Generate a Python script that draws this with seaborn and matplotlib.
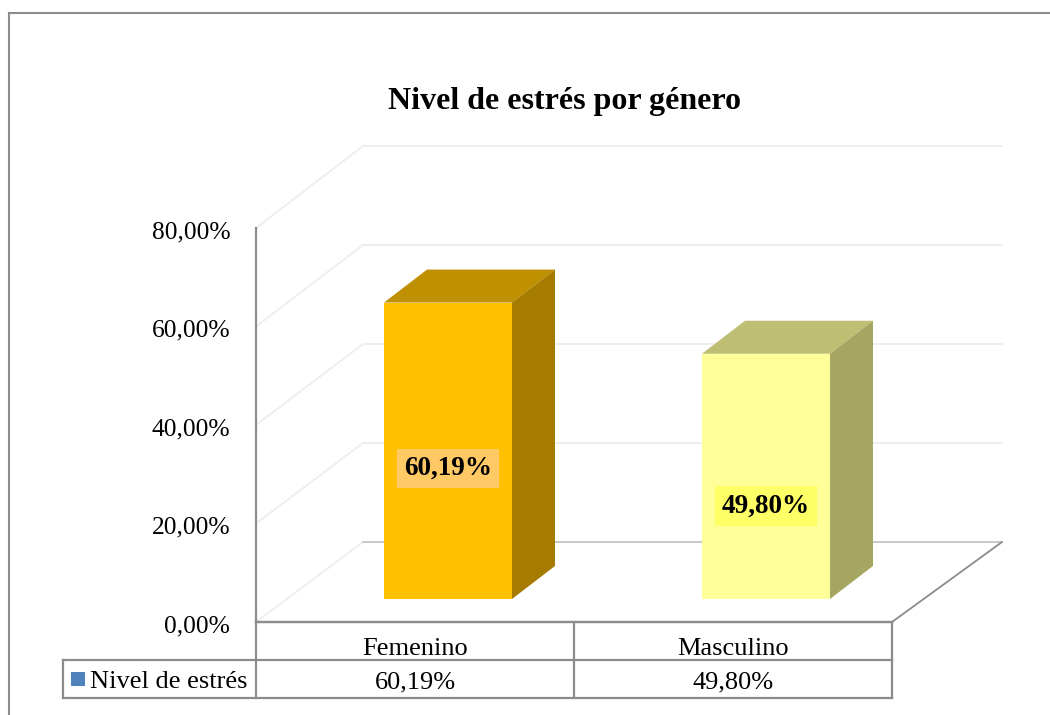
import matplotlib
matplotlib.use("Agg")
import matplotlib.pyplot as plt
from matplotlib.patches import Polygon, Rectangle
from matplotlib.ticker import FuncFormatter
from matplotlib.transforms import ScaledTranslation
import pandas as pd
import seaborn as sns

# ---- data ----
categories = ["Femenino", "Masculino"]
values = [60.19, 49.80]
value_labels = ["60,19%", "49,80%"]
series_name = "Nivel de estrés"
title = "Nivel de estrés por género"
y_ticks = [0, 20, 40, 60, 80]

# ---- styles ----
front_colors = ["#FFC000", "#FFFF99"]
top_colors = ["#BF9000", "#BFBF73"]
side_colors = ["#A67C00", "#A6A663"]
label_box_colors = ["#FFC966", "#FFFF66"]
label_fracs = [0.440, 0.378]
GRAY = "#8C8C8C"
GRID = "#EEEEEE"
W, H = 1050, 715

sns.set_theme(style="white")
plt.rcParams["font.family"] = ["Liberation Serif", "DejaVu Serif"]
fig = plt.figure(figsize=(W / 100, H / 100), dpi=100, facecolor="white")


def rect(x0, y_top, x1, y_bot):
    return [x0 / W, 1 - y_bot / H, (x1 - x0) / W, (y_bot - y_top) / H]


# main axes: left wall axis + gridlines
ax = fig.add_axes(rect(256, 228, 892, 622))
ax.set_xlim(-0.5, 1.5)
ax.set_ylim(0, 80)
ax.patch.set_alpha(0)
ax.set_xticks([])
ax.set_yticks(y_ticks)
ax.yaxis.set_major_formatter(FuncFormatter(lambda v, _: f"{v:.2f}%".replace(".", ",")))
ax.tick_params(axis="y", length=0, pad=18.5, labelsize=18.4, labelcolor="black")
shift = ScaledTranslation(0, -1.5 / 100, fig.dpi_scale_trans)
for lab in ax.get_yticklabels():
    lab.set_transform(lab.get_transform() + shift)
for s in ("top", "right", "bottom"):
    ax.spines[s].set_visible(False)
ax.spines["left"].set_color(GRAY)
ax.spines["left"].set_linewidth(1.6)
ax.spines["bottom"].set_visible(True)
ax.spines["bottom"].set_color(GRAY)
ax.spines["bottom"].set_linewidth(1.6)

# depth of wall and of bars, in data units of this 318 px/unit, 4.925 px/% scale
px_x, px_y = 318.0, 394.0 / 80
wall_dx, wall_dy = 107 / px_x, 80 / px_y
wall_scale = 99 / 98.5
end_x = 1.5 + 110 / px_x
for t in y_ticks:
    c = "#C8C8C8" if t == 0 else GRID
    back = t * wall_scale + wall_dy
    ax.plot([-0.5, -0.5 + wall_dx], [t, back], color=GRID, lw=1.4, clip_on=False, zorder=1)
    ax.plot([-0.5 + wall_dx, end_x], [back, back], color=c, lw=1.4, clip_on=False, zorder=1)
ax.plot([1.5, end_x], [0, wall_dy], color=GRAY, lw=1.3, clip_on=False, zorder=2)

# bars: same scale, shifted into the 3-D floor
bx = fig.add_axes(rect(256 + 33, 228 - 23, 892 + 33, 622 - 23))
df = pd.DataFrame({"genero": categories, "valor": values})
sns.barplot(data=df, x="genero", y="valor", hue="genero", palette=front_colors,
            width=0.4025, legend=False, saturation=1, ax=bx)
bx.set_xlim(-0.5, 1.5)
bx.set_ylim(0, 80)
bx.axis("off")
bx.patch.set_alpha(0)

bar_dx, bar_dy = 43 / px_x, 33 / px_y
for i, p in enumerate(bx.patches):
    x0, w, h = p.get_x(), p.get_width(), p.get_height()
    x1 = x0 + w
    p.set_linewidth(0)
    bx.add_patch(Polygon([(x0, h), (x1, h), (x1 + bar_dx, h + bar_dy), (x0 + bar_dx, h + bar_dy)],
                         closed=True, fc=top_colors[i], ec="none", clip_on=False, zorder=3))
    bx.add_patch(Polygon([(x1, 0), (x1 + bar_dx, bar_dy), (x1 + bar_dx, h + bar_dy), (x1, h)],
                         closed=True, fc=side_colors[i], ec="none", clip_on=False, zorder=3))
    bx.text(x0 + w / 2, h * label_fracs[i], value_labels[i], ha="center", va="center",
            fontsize=19.6, fontweight="bold", color="black", zorder=5,
            bbox=dict(boxstyle="square,pad=0.27", fc=label_box_colors[i], ec="none"))

# overlay in pixel coordinates: frame, title, data table
cv = fig.add_axes([0, 0, 1, 1], zorder=10)
cv.set_xlim(0, W)
cv.set_ylim(H, 0)
cv.axis("off")
cv.patch.set_alpha(0)


def seg(x0, y0, x1, y1, lw=1.6):
    cv.plot([x0, x1], [y0, y1], color=GRAY, lw=lw, solid_capstyle="projecting")


seg(8.5, 13, 8.5, H, 1.5)
seg(8.5, 13, W, 13, 1.5)
seg(256, 622, 892, 622)
seg(63, 660, 892, 660)
seg(63, 698, 892, 698)
seg(63, 660, 63, 698)
seg(256, 622, 256, 698)
seg(574, 622, 574, 698)
seg(892, 622, 892, 698)

cv.text(564.5, 101, title, ha="center", va="center", fontsize=23, fontweight="bold", color="black")
centers = [415, 733]
for cx, cat, lab in zip(centers, categories, value_labels):
    cv.text(cx, 649, cat, ha="center", va="center", fontsize=19, color="black")
    cv.text(cx, 682, lab, ha="center", va="center", fontsize=19, color="black")
cv.add_patch(Rectangle((71, 672), 14, 14, fc="#4F81BD", ec="none"))
cv.text(90, 682, series_name, ha="left", va="center", fontsize=19, color="black")

fig.savefig("out.png", dpi=100)
